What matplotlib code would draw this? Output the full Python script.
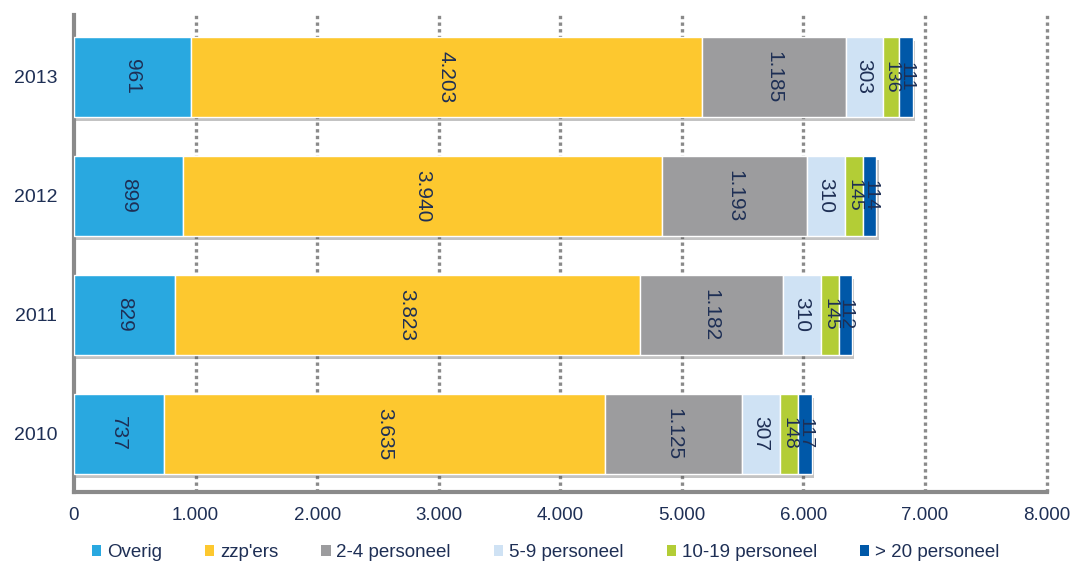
import numpy as np
import matplotlib.pyplot as plt
import matplotlib.patheffects as pe
from matplotlib.patches import Patch

plt.rcParams['font.family'] = ['Liberation Sans', 'DejaVu Sans']

years = ['2010', '2011', '2012', '2013']
series = ['Overig', "zzp'ers", '2-4 personeel', '5-9 personeel',
          '10-19 personeel', '> 20 personeel']
overig = [737, 829, 899, 961]
zzp = [3635, 3823, 3940, 4203]
p2_4 = [1125, 1182, 1193, 1185]
p5_9 = [307, 310, 310, 303]
p10_19 = [148, 145, 145, 136]
p20 = [117, 112, 114, 111]
xticks = [0, 1000, 2000, 3000, 4000, 5000, 6000, 7000, 8000]
xticklabels = ['0', '1.000', '2.000', '3.000', '4.000', '5.000', '6.000', '7.000', '8.000']

colors = ['#29A8E0', '#FDC82F', '#9C9C9E', '#CFE2F4', '#B3CD36', '#0058A8']
txt = '#1E2F55'

fig = plt.figure(figsize=(10.74, 5.63), dpi=100)
ax = fig.add_axes([0.0689, 0.1261, 0.9055, 0.8473])

y = np.arange(len(years))
left = np.zeros(len(years))
shadow = [pe.SimplePatchShadow(offset=(1.5, -3), shadow_rgbFace='#555555', alpha=0.35), pe.Normal()]
for name, vals, c in zip(series, [overig, zzp, p2_4, p5_9, p10_19, p20], colors):
    vals = np.array(vals)
    bars = ax.barh(y, vals, left=left, height=0.67, color=c, edgecolor='white',
                   linewidth=1.0, label=name, zorder=3)
    for b in bars:
        b.set_path_effects(shadow)
    # narrow segments get a slightly smaller label
    for yi, l, v in zip(y, left, vals):
        s = f'{v:,}'.replace(',', '.')
        ax.text(l + v / 2, yi, s, rotation=270, ha='center', va='center',
                fontsize=15 if v > 200 else 14, color=txt, zorder=5)
    left += vals

ax.set_xlim(0, 8000)
ax.set_ylim(-0.49, 3.52)
ax.set_xticks(xticks)
ax.set_xticklabels(xticklabels, fontsize=13.5, color=txt)
ax.set_yticks(y)
ax.set_yticklabels(years, fontsize=14, color=txt)
ax.tick_params(length=0)
ax.tick_params(axis='x', pad=11)
ax.tick_params(axis='y', pad=12)

for x in xticks[1:]:
    ax.axvline(x, color='#8A8A8A', linestyle=(0, (1, 1)), linewidth=2.4,
               zorder=1, clip_on=False)

for s in ['top', 'right']:
    ax.spines[s].set_visible(False)
for s in ['left', 'bottom']:
    ax.spines[s].set_color('#8A8A8A')
    ax.spines[s].set_linewidth(3)

handles = [Patch(facecolor=c, label=n) for n, c in zip(series, colors)]
fig.legend(handles=handles, loc='center', bbox_to_anchor=(0.508, 0.018), ncol=6,
           frameon=False, fontsize=13.5, handlelength=0.5, handleheight=0.5,
           handletextpad=0.3, columnspacing=2.3, labelcolor=txt)

fig.savefig('out.png', dpi=100)
